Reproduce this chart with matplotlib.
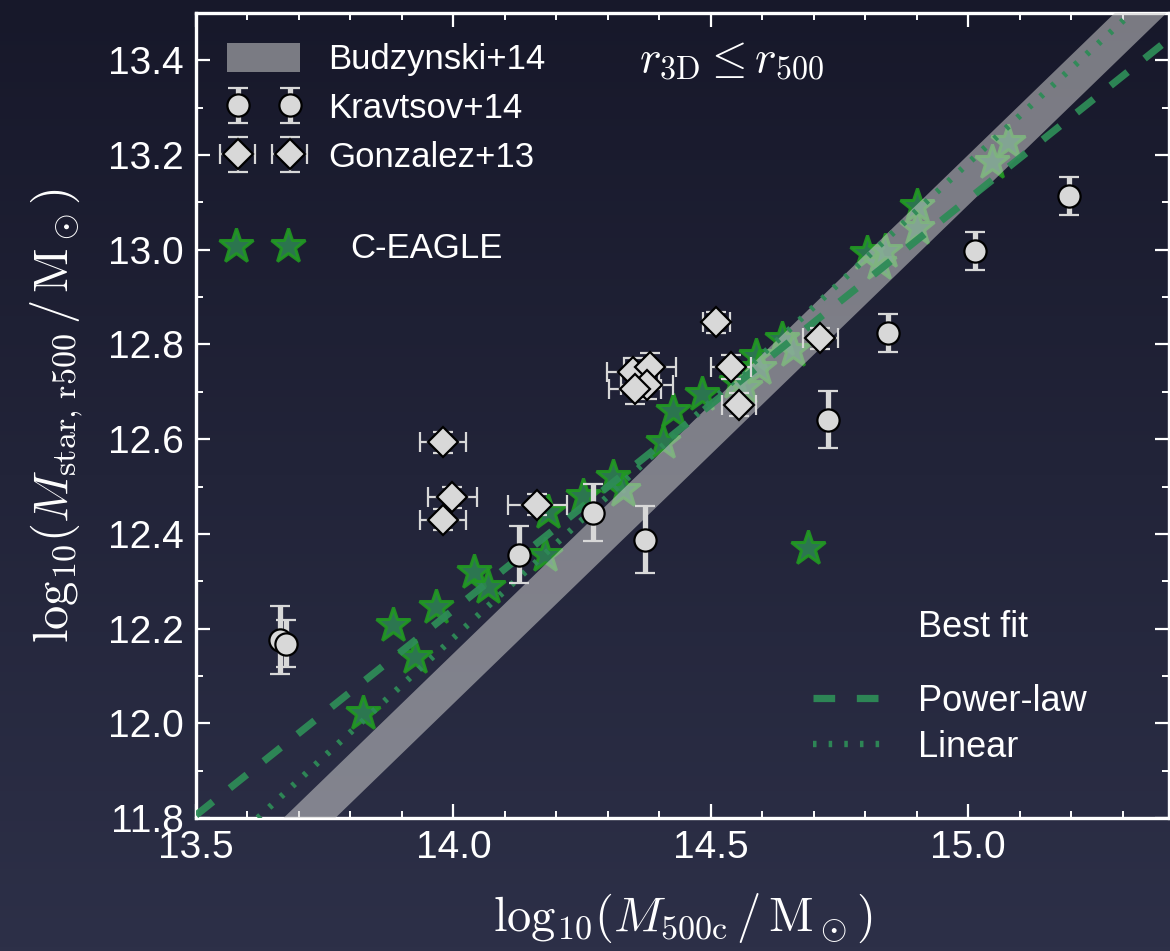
import numpy as np
import matplotlib
matplotlib.use("Agg")
import matplotlib.pyplot as plt
from matplotlib.patches import Patch
from matplotlib.lines import Line2D
from matplotlib.colors import LinearSegmentedColormap

# ---------------- data ----------------
ceagle_x = [13.825, 13.883, 13.926, 13.966, 14.040, 14.068, 14.178, 14.184, 14.252, 14.310,
            14.330, 14.408, 14.427, 14.483, 14.548, 14.567, 14.587, 14.594, 14.639, 14.660,
            14.689, 14.804, 14.826, 14.839, 14.901, 14.901, 15.047, 15.078]
ceagle_y = [12.022, 12.208, 12.140, 12.246, 12.320, 12.288, 12.356, 12.447, 12.479, 12.521,
            12.493, 12.593, 12.660, 12.696, 12.720, 12.711, 12.775, 12.751, 12.811, 12.789,
            12.371, 12.994, 12.973, 12.997, 13.092, 13.047, 13.185, 13.227]

krav_x = [13.663, 13.675, 14.128, 14.272, 14.373, 14.728, 14.845, 15.014, 15.195]
krav_y = [12.176, 12.168, 12.356, 12.445, 12.388, 12.641, 12.825, 12.997, 13.113]
krav_yerr = [0.072, 0.050, 0.060, 0.060, 0.070, 0.060, 0.040, 0.040, 0.040]

gonz_x = [13.980, 13.998, 13.980, 14.163, 14.349, 14.382, 14.376, 14.353, 14.511, 14.540, 14.555, 14.713]
gonz_y = [12.593, 12.477, 12.430, 12.462, 12.741, 12.753, 12.715, 12.705, 12.847, 12.753, 12.673, 12.813]
gonz_xerr = [0.045, 0.047, 0.045, 0.057, 0.050, 0.050, 0.050, 0.050, 0.027, 0.039, 0.033, 0.034]
gonz_yerr = [0.022, 0.022, 0.022, 0.022, 0.030, 0.030, 0.030, 0.030, 0.022, 0.025, 0.025, 0.022]

budz_x = [13.5, 15.39]
budz_lo = [11.515, 13.505]
budz_hi = [11.621, 13.611]

powerlaw_x = [13.5, 15.39]
powerlaw_y = [11.806, 13.445]

linear_x = [13.62, 13.805, 14.13, 14.674, 14.93, 15.31]
linear_y = [11.80, 11.986, 12.31, 12.853, 13.113, 13.493]

xticks = [13.5, 14.0, 14.5, 15.0]
yticks = [11.8, 12.0, 12.2, 12.4, 12.6, 12.8, 13.0, 13.2, 13.4]

# ---------------- style ----------------
plt.rcParams['font.family'] = ['Liberation Sans', 'DejaVu Sans']
plt.rcParams['mathtext.fontset'] = 'cm'

W, H = 1170, 951
fig = plt.figure(figsize=(W / 100, H / 100), dpi=100)

# background gradient
bg = fig.add_axes([0, 0, 1, 1], zorder=-10)
cmap = LinearSegmentedColormap.from_list('bg', ['#17182a', '#2d3048'])
grad = np.linspace(0, 1, 256).reshape(-1, 1)
bg.imshow(grad, aspect='auto', cmap=cmap, extent=[0, 1, 0, 1], origin='upper')
bg.set_axis_off()

L, R, B, T = 196 / W, 1169 / W, 1 - 818 / H, 1 - 13 / H
ax = fig.add_axes([L, B, R - L, T - B])
ax.set_facecolor('none')

grey = '#d8d8d8'
star_fc = (0.18, 0.52, 0.33, 0.85)
star_ec = (0.13, 0.60, 0.13, 0.9)

# C-EAGLE stars
ax.plot(ceagle_x, ceagle_y, ls='none', marker='*', ms=26,
        mfc=star_fc, mec=star_ec, mew=2.2, zorder=2)

# Budzynski band
ax.fill_between(budz_x, budz_lo, budz_hi, color='0.8', alpha=0.55, lw=0, zorder=3)

# fits
pl_style = dict(color='seagreen', lw=5.2, ls=(0, (3.0, 3.0)), dash_capstyle='butt', alpha=0.95)
li_style = dict(color='seagreen', lw=4.6, ls=(0, (0.55, 1.9)), dash_capstyle='butt', alpha=0.95)
ax.plot(powerlaw_x, powerlaw_y, zorder=4, **pl_style)
ax.plot(linear_x, linear_y, zorder=4, **li_style)

# Kravtsov
krav = ax.errorbar(krav_x, krav_y, yerr=krav_yerr, fmt='o', ms=16, mfc=grey, mec='black',
                   mew=1.6, ecolor=grey, elinewidth=3.8, capsize=7.5, capthick=2.4, zorder=6)
# Gonzalez
gonz = ax.errorbar(gonz_x, gonz_y, xerr=gonz_xerr, yerr=gonz_yerr, fmt='D', ms=15, mfc=grey,
                   mec='black', mew=1.6, ecolor=grey, elinewidth=1.6, capsize=7, capthick=1.6,
                   zorder=6)

ax.set_xlim(13.5, 15.39)
ax.set_ylim(11.8, 13.5)
ax.set_xticks(xticks)
ax.set_yticks(yticks)
ax.set_xticklabels([f'{v:.1f}' for v in xticks])
ax.set_yticklabels([f'{v:.1f}' for v in yticks])
ax.xaxis.set_minor_locator(matplotlib.ticker.MultipleLocator(0.1))
ax.yaxis.set_minor_locator(matplotlib.ticker.MultipleLocator(0.1))
ax.tick_params(which='both', direction='in', top=True, right=True, colors='white',
               labelsize=28, labelcolor='white')
ax.tick_params(which='major', length=10, width=1.6)
ax.tick_params(axis='x', which='major', pad=9)
ax.tick_params(axis='y', which='major', pad=9)
ax.tick_params(which='minor', length=5, width=1.4)
for s in ax.spines.values():
    s.set_color('white')
    s.set_linewidth(2.4)

ax.set_xlabel(r'${\rm log}_{10}(M_{\rm 500c}\,/\,{\rm M}_\odot)$', fontsize=35, color='white',
              labelpad=18)
ax.set_ylabel(r'${\rm log}_{10}(M_{\rm star,\,r500}\,/\,{\rm M}_\odot)$', fontsize=35,
              color='white', labelpad=16)

ax.text(14.54, 13.40, r'$r_{\rm 3D} \leq r_{500}$', fontsize=33, color='white',
        ha='center', va='center', zorder=8)

# legend 1
budz_patch = Patch(facecolor='0.8', alpha=0.55, edgecolor='none')
leg1 = ax.legend([budz_patch, krav, gonz], ['Budzynski+14', 'Kravtsov+14', 'Gonzalez+13'],
                 loc='upper left', bbox_to_anchor=(0.007, 0.993), frameon=False, numpoints=2,
                 fontsize=25, labelcolor='white', handlelength=2.1, handletextpad=0.8,
                 labelspacing=0.45, borderpad=0.2, handleheight=0.9)
ax.add_artist(leg1)

star_h = Line2D([], [], ls='none', marker='*', ms=26, mfc=star_fc, mec=star_ec, mew=2.2)
leg2 = ax.legend([star_h], ['C-EAGLE'], loc='center left', bbox_to_anchor=(0.005, 0.707),
                 frameon=False, numpoints=2, fontsize=25, labelcolor='white',
                 handlelength=2.1, handletextpad=1.5, borderpad=0.2)
ax.add_artist(leg2)

# best fit legend
ax.text(14.903, 12.202, 'Best fit', fontsize=26, color='white', ha='left', va='center')
pl_h = Line2D([], [], **pl_style)
li_h = Line2D([], [], **li_style)
leg3 = ax.legend([pl_h, li_h], ['Power-law', 'Linear'], loc='upper left',
                 bbox_to_anchor=(0.608, 0.198), frameon=False, fontsize=26, labelcolor='white',
                 handlelength=2.0, handletextpad=0.9, labelspacing=0.3, borderpad=0.2)

fig.savefig('out.png', dpi=100)
